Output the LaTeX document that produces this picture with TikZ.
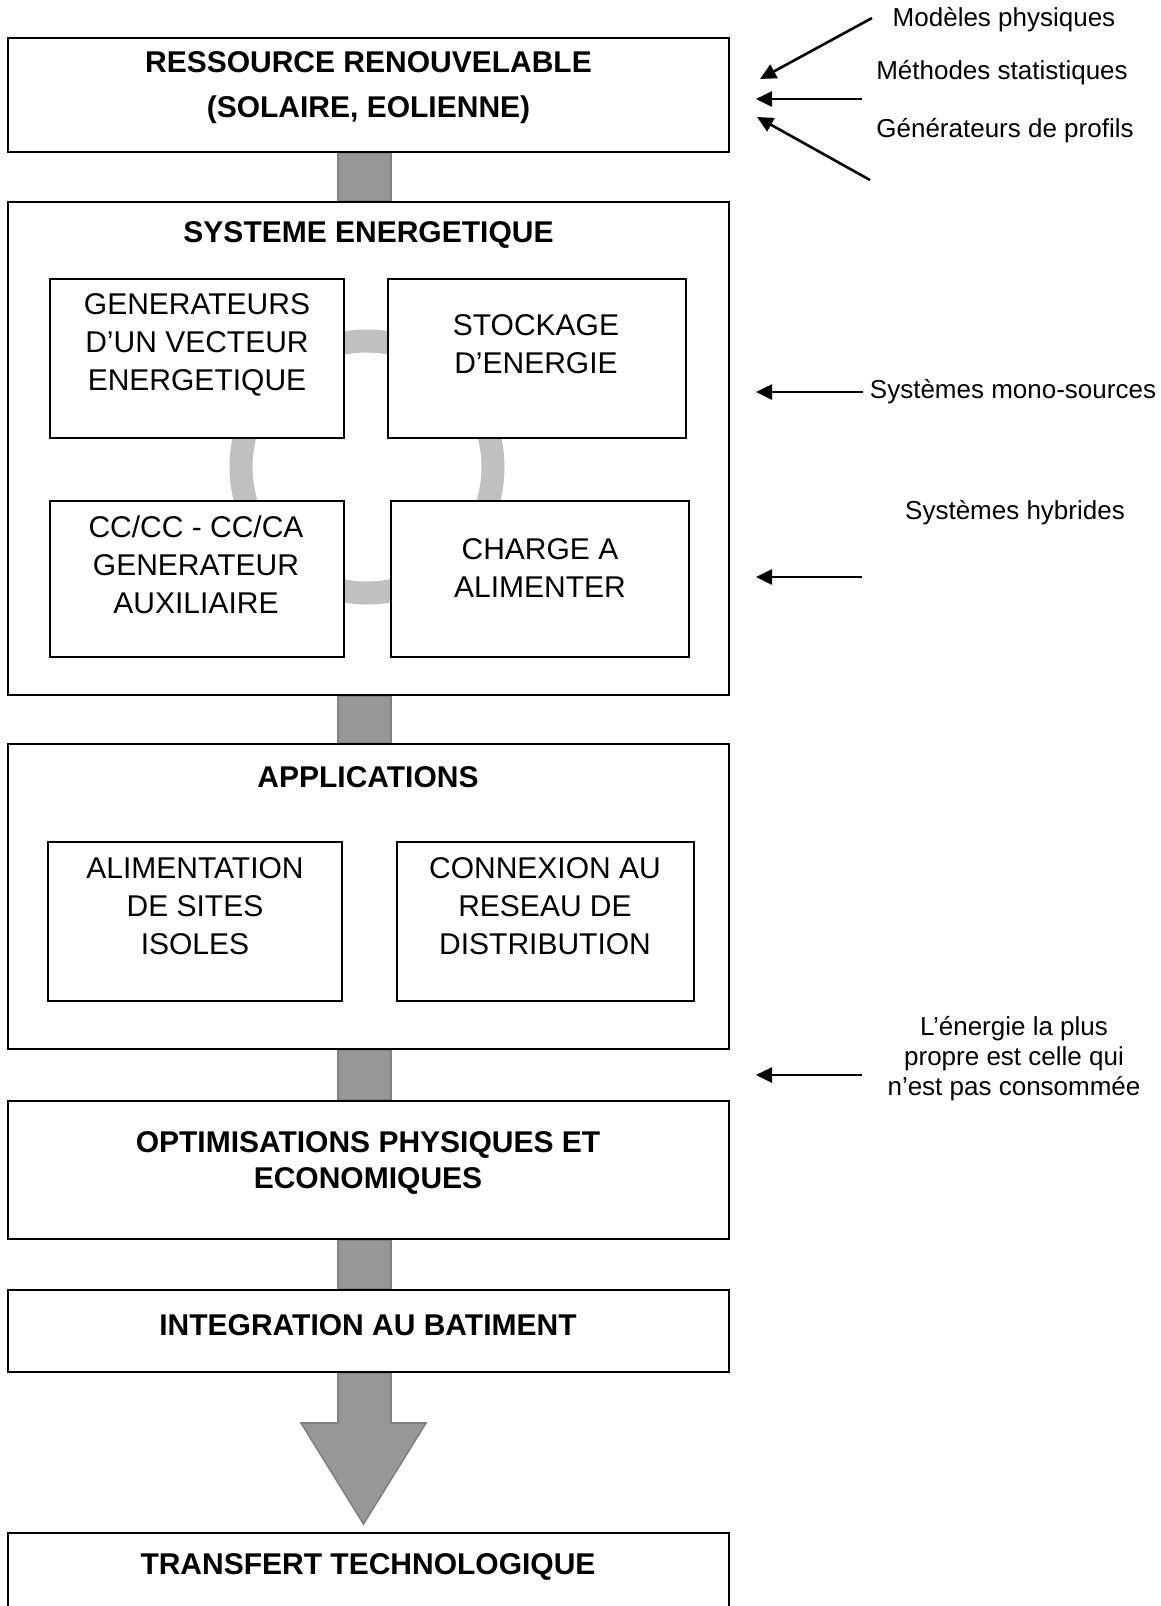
\documentclass[tikz,border=0pt]{standalone}
\usepackage{fontspec}
\setmainfont{Liberation Sans}
\usepackage{tikz}
\usetikzlibrary{positioning,arrows.meta,backgrounds,calc}
\definecolor{barfill}{HTML}{979797}
\definecolor{baredge}{HTML}{828282}
\definecolor{ringgray}{HTML}{C0C0C0}

\begin{document}
\begin{tikzpicture}[
  x=0.5pt, y=-0.5pt,
  frame/.style={draw,line width=1.2pt,fill=white,minimum width=360.5pt,inner sep=0pt},
  unit/.style={draw,line width=1.2pt,fill=white,inner sep=0pt,minimum height=79.5pt},
  ttl/.style={font=\fontsize{15}{22.5}\selectfont\bfseries,align=center},
  lbl/.style={font=\fontsize{15}{19}\selectfont,align=center},
  side/.style={font=\fontsize{13}{15}\selectfont,align=center},
  arr/.style={-{Triangle[length=8pt,width=7.5pt]},line width=1.3pt},
  bar/.style={fill=barfill,draw=baredge,line width=0.8pt},
  ring/.style={draw=ringgray,line width=11.5pt}
]
\useasboundingbox (0,0) rectangle (1161,1606);

% main column
\node[frame,minimum height=57pt] (res) at (368.5,95) {};
\node[ttl] (resT) at (368.5,87.5) {RESSOURCE RENOUVELABLE\\(SOLAIRE, EOLIENNE)};

\node[frame,minimum height=246.5pt] (sys) at (368.5,448.5) {};
\node[ttl] (sysT) at (368.5,235) {SYSTEME ENERGETIQUE};
\draw[ring] (367,467) circle[radius=126];

\node[unit,minimum width=147pt] (gen) at (197,358.5) {};
\node[unit,minimum width=149pt] (stock) at (537,358.5) {};
\node[unit,minimum width=147pt,minimum height=78pt] (conv) at (197,579) {};
\node[unit,minimum width=149pt,minimum height=78pt] (load) at (540,579) {};
\node[lbl] (genT) at (197,345) {GENERATEURS\\D’UN VECTEUR\\ENERGETIQUE};
\node[lbl] (stockT) at (536,344) {STOCKAGE\\D’ENERGIE};
\node[lbl] (convT) at (196,565) {CC/CC - CC/CA\\GENERATEUR\\AUXILIAIRE};
\node[lbl] (loadT) at (540,568.5) {CHARGE A\\ALIMENTER};

\node[frame,minimum height=152.5pt] (app) at (368.5,896.5) {};
\node[ttl] (appT) at (368,777) {APPLICATIONS};
\node[unit,minimum width=147pt] (alim) at (195,921.5) {};
\node[unit,minimum width=148.5pt] (grid) at (545.5,921.5) {};
\node[lbl] (alimT) at (195,906) {ALIMENTATION\\DE SITES\\ISOLES};
\node[lbl] (gridT) at (545,906) {CONNEXION AU\\RESEAU DE\\DISTRIBUTION};

\node[frame,minimum height=69pt] (opt) at (368.5,1170) {};
\node[ttl,font=\fontsize{15}{18}\selectfont\bfseries] (optT) at (368,1163) {OPTIMISATIONS PHYSIQUES ET\\ECONOMIQUES};

\node[frame,minimum height=41pt] (integ) at (368.5,1331) {};
\node[ttl] (integT) at (368,1325) {INTEGRATION AU BATIMENT};

\node[frame,minimum height=63.5pt] (trans) at (368.5,1596.5) {};
\node[ttl] (transT) at (368,1567) {TRANSFERT TECHNOLOGIQUE};

% flow bars
\coordinate (bl) at (338,0);
\coordinate (br) at (391,0);
\coordinate (headL) at (301,1423);
\coordinate (headR) at (426,1423);
\coordinate (tip) at (363.5,1524);
\begin{scope}[on background layer]
\draw[bar] (res.south -| bl) rectangle (sys.north -| br);
\draw[bar] (sys.south -| bl) rectangle (app.north -| br);
\draw[bar] (app.south -| bl) rectangle (opt.north -| br);
\draw[bar] (opt.south -| bl) rectangle (integ.north -| br);
\draw[bar] (integ.south -| bl) -- (bl |- headL) -- (headL) -- (tip)
  -- (headR) -- (br |- headR) -- (integ.south -| br) -- cycle;
\end{scope}

% side notes
\node[side] (model) at (1004,20) {Modèles physiques};
\node[side] (stat) at (1002,73) {Méthodes statistiques};
\node[side] (prof) at (1005,131) {Générateurs de profils};
\coordinate (m1) at (872,18);
\coordinate (t1) at (760,79);
\coordinate (m2) at (862,99);
\coordinate (t2) at (756,99);
\coordinate (m3) at (870,180);
\coordinate (t3) at (757,117);
\draw[arr] (m1) -- (t1);
\draw[arr] (m2) -- (t2);
\draw[arr] (m3) -- (t3);

\node[side] (mono) at (1013,392) {Systèmes mono-sources};
\coordinate (t4) at (756,392);
\draw[arr] (mono.west) -- (t4);

\node[side] (hyb) at (1015,513) {Systèmes hybrides};
\coordinate (m5) at (862,577);
\coordinate (t5) at (756,577);
\draw[arr] (m5) -- (t5);

\node[side] (eco) at (1014,1059) {L’énergie la plus\\propre est celle qui\\n’est pas consommée};
\coordinate (m6) at (862,1075);
\coordinate (t6) at (756,1075);
\draw[arr] (m6) -- (t6);
\end{tikzpicture}
\end{document}
